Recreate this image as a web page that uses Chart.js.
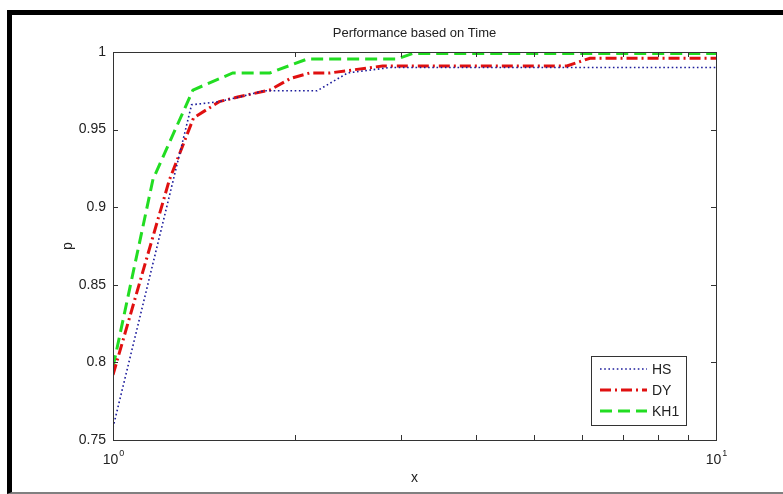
<!DOCTYPE html>
<html>
<head>
<meta charset="utf-8">
<script src="https://cdn.jsdelivr.net/npm/chart.js@4/dist/chart.umd.min.js"></script>
<style>
  body { margin: 0; background: #fff; }
  #wrap { position: relative; width: 783px; height: 494px; overflow: hidden; }
  #frame { position: absolute; left: 7px; top: 10px; width: 800px; height: 477px;
           border-left: 5px solid #000; border-top: 5px solid #000; border-bottom: 2px solid #808080; }
  #perfChart { position: absolute; left: 0; top: 0; }
</style>
</head>
<body>
<div id="wrap">
  <div id="frame"></div>
  <canvas id="perfChart" width="783" height="494"></canvas>
</div>
<script>
var seriesNames = ['HS', 'DY', 'KH1'];
var chartTitle = 'Performance based on Time';

// x values (log axis, 10^0 .. 10^1) and p values
var hsX = [1, 1.35, 1.5, 1.62, 1.78, 2.18, 2.45, 2.88, 10];
var hsY = [0.758, 0.966, 0.968, 0.971, 0.975, 0.975, 0.9865, 0.990, 0.990];

var dyX = [1, 1.24, 1.36, 1.5, 1.61, 1.82, 1.97, 2.12, 2.29, 2.8, 5.66, 6.18, 10];
var dyY = [0.792, 0.9175, 0.9575, 0.968, 0.971, 0.9755, 0.983, 0.9865, 0.9865, 0.991, 0.991, 0.996, 0.996];

var kh1X = [1, 1.165, 1.357, 1.58, 1.82, 2.1, 2.96, 3.14, 10];
var kh1Y = [0.797, 0.918, 0.9755, 0.9865, 0.9865, 0.9955, 0.9955, 0.999, 0.999];

var yTickVals = [0.75, 0.8, 0.85, 0.9, 0.95, 1];
var xMinorTicks = [2, 3, 4, 5, 6, 7, 8, 9];
var xLabelVals = [1, 10];

function pts(xs, ys) {
    return xs.map(function (x, i) { return { x: x, y: ys[i] }; });
}

var FONT = "'Liberation Sans', Arial, sans-serif";
var axisColor = '#333333';

// box, inner ticks, title, superscript x labels and legend, MATLAB style
var matlabAxes = {
    id: 'matlabAxes',
    afterDraw: function (chart) {
        var ctx = chart.ctx, a = chart.chartArea;
        var xs = chart.scales.x, ys = chart.scales.y;
        ctx.save();
        ctx.strokeStyle = axisColor;
        ctx.lineWidth = 1;
        ctx.strokeRect(Math.round(a.left) + 0.5, Math.round(a.top) + 0.5,
            Math.round(a.right - a.left), Math.round(a.bottom - a.top));

        ctx.beginPath();
        yTickVals.forEach(function (v) {
            var y = Math.round(ys.getPixelForValue(v)) + 0.5;
            ctx.moveTo(a.left, y); ctx.lineTo(a.left + 5, y);
            ctx.moveTo(a.right, y); ctx.lineTo(a.right - 5, y);
        });
        xMinorTicks.forEach(function (v) {
            var x = Math.round(xs.getPixelForValue(v)) + 0.5;
            ctx.moveTo(x, a.bottom); ctx.lineTo(x, a.bottom - 5);
            ctx.moveTo(x, a.top); ctx.lineTo(x, a.top + 5);
        });
        ctx.stroke();

        // title centred over the axes
        ctx.fillStyle = '#222';
        ctx.font = '13px ' + FONT;
        ctx.textAlign = 'center';
        ctx.textBaseline = 'middle';
        ctx.fillText(chartTitle, (a.left + a.right) / 2, 33);

        // 10^0, 10^1
        ctx.textBaseline = 'alphabetic';
        xLabelVals.forEach(function (v) {
            var x = xs.getPixelForValue(v);
            var exp = String(Math.round(Math.log10(v)));
            ctx.font = '14px ' + FONT;
            var w1 = ctx.measureText('10').width;
            ctx.font = '9px ' + FONT;
            var w2 = ctx.measureText(exp).width;
            var x0 = x - (w1 + w2) / 2;
            ctx.font = '14px ' + FONT;
            ctx.textAlign = 'left';
            ctx.fillText('10', x0, 464);
            ctx.font = '9px ' + FONT;
            ctx.fillText(exp, x0 + w1 + 1, 456);
        });

        // legend box
        var lx = 591, ly = 356, lw = 95, lh = 69;
        ctx.fillStyle = '#fff';
        ctx.fillRect(lx, ly, lw, lh);
        ctx.strokeRect(lx + 0.5, ly + 0.5, lw, lh);
        chart.data.datasets.forEach(function (ds, i) {
            var yy = 369 + i * 21;
            ctx.save();
            ctx.strokeStyle = ds.borderColor;
            ctx.lineWidth = ds.borderWidth;
            ctx.setLineDash(ds.borderDash || []);
            ctx.beginPath();
            ctx.moveTo(600, yy); ctx.lineTo(647, yy);
            ctx.stroke();
            ctx.restore();
            ctx.fillStyle = '#222';
            ctx.font = '14px ' + FONT;
            ctx.textAlign = 'left';
            ctx.textBaseline = 'middle';
            ctx.fillText(ds.label, 652, yy + 1);
        });
        ctx.restore();
    }
};

var ctx1 = document.getElementById('perfChart').getContext('2d');
var perfChart = new Chart(ctx1, {
    type: 'line',
    data: {
        datasets: [{
            label: seriesNames[0],
            data: pts(hsX, hsY),
            borderColor: '#1c1c9c',
            borderWidth: 1.6,
            borderDash: [1.6, 2.6],
            pointRadius: 0,
            tension: 0
        }, {
            label: seriesNames[1],
            data: pts(dyX, dyY),
            borderColor: '#e01010',
            borderWidth: 3,
            borderDash: [11, 4, 2, 4],
            pointRadius: 0,
            tension: 0
        }, {
            label: seriesNames[2],
            data: pts(kh1X, kh1Y),
            borderColor: '#22dd22',
            borderWidth: 3,
            borderDash: [12, 6],
            pointRadius: 0,
            tension: 0
        }]
    },
    options: {
        responsive: false,
        animation: false,
        events: [],
        layout: { padding: { left: 0, right: 67, top: 52, bottom: 0 } },
        scales: {
            x: {
                type: 'logarithmic',
                min: 1,
                max: 10,
                grid: { display: false, drawTicks: false },
                border: { display: true, color: axisColor },
                ticks: { display: false },
                title: {
                    display: true, text: 'x', color: '#222',
                    font: { family: FONT, size: 14 },
                    padding: { top: 0, bottom: 7 }
                },
                afterFit: function (s) { s.height = 54; }
            },
            y: {
                min: 0.75,
                max: 1,
                grid: { display: false, drawTicks: false },
                border: { display: true, color: axisColor },
                ticks: {
                    stepSize: 0.05,
                    padding: 7,
                    color: '#222',
                    font: { family: FONT, size: 14 },
                    callback: function (v) { return String(+v.toFixed(2)); }
                },
                title: {
                    display: true, text: 'p', color: '#222',
                    font: { family: FONT, size: 14 },
                    padding: { top: 60, bottom: 0 }
                },
                afterFit: function (s) { s.width = 113; }
            }
        },
        plugins: {
            legend: { display: false },
            tooltip: { enabled: false },
            title: { display: false }
        }
    },
    plugins: [matlabAxes]
});
</script>
</body>
</html>
